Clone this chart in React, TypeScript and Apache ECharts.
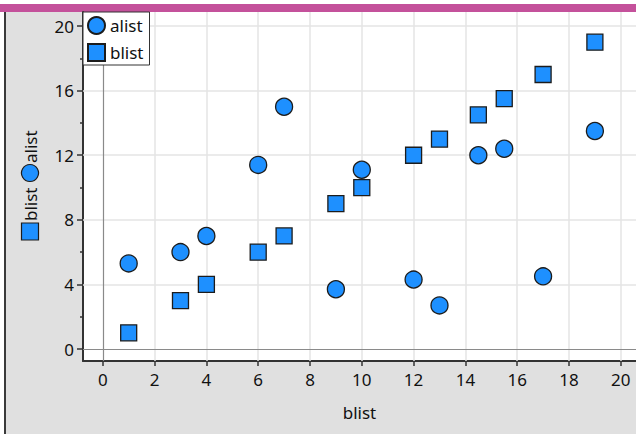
import React, { useEffect, useRef } from "react";
import * as echarts from "echarts";

const blist = [1, 3, 4, 6, 7, 9, 10, 12, 13, 14.5, 15.5, 17, 19];
const alist = [5.3, 6, 7, 11.4, 15, 3.7, 11.1, 4.3, 2.7, 12, 12.4, 4.5, 13.5];
const xTicks = [0, 2, 4, 6, 8, 10, 12, 14, 16, 18, 20];
const yTicks = [0, 4, 8, 12, 16, 20];
const yMinorTicks = [2, 6, 10, 14, 18];
const yGrid = [4, 8, 12, 16, 20];

const FONT = "Noto Sans";
const FS = 17;
const BLUE = "#1e90ff";
const EDGE = "#1c1c1c";
const TXT = "#111111";

export default function App() {
  const ref = useRef<HTMLDivElement>(null);
  useEffect(() => {
    if (!ref.current) return;
    const chart = echarts.init(ref.current, null, { renderer: "svg" });
    const xMin = -0.764;
    const xMax = 20.587;
    const yMin = -0.743;
    const yMax = 20.87;
    chart.setOption({
      animation: false,
      backgroundColor: "#ffffff",
      textStyle: { fontFamily: FONT },
      graphic: [
        { type: "rect", z: -10, shape: { x: 5, y: 12, width: 631, height: 422 }, style: { fill: "#e0e0e0" } },
        { type: "rect", z: -10, shape: { x: 0, y: 4, width: 636, height: 8 }, style: { fill: "#c4519b" } },
        { type: "rect", z: -10, shape: { x: 4, y: 12, width: 2, height: 422 }, style: { fill: "#3a3a3a" } },
        {
          type: "group",
          x: 30,
          y: 180,
          rotation: Math.PI / 2,
          z: 10,
          children: [
            {
              type: "rect",
              shape: { x: -60, y: -8.5, width: 17, height: 17 },
              style: { fill: BLUE, stroke: EDGE, lineWidth: 1.2 },
            },
            {
              type: "text",
              x: -41,
              y: 0,
              style: { text: "blist", fontSize: FS, fontFamily: FONT, fill: TXT, align: "left", verticalAlign: "middle" },
            },
            {
              type: "circle",
              shape: { cx: 7, cy: 0, r: 8.5 },
              style: { fill: BLUE, stroke: EDGE, lineWidth: 1.2 },
            },
            {
              type: "text",
              x: 17,
              y: 0,
              style: { text: "alist", fontSize: FS, fontFamily: FONT, fill: TXT, align: "left", verticalAlign: "middle" },
            },
          ],
        },
      ],
      grid: {
        left: 83,
        top: 12,
        right: 0,
        bottom: 73,
        show: true,
        backgroundColor: "#ffffff",
        borderWidth: 0,
      },
      legend: {
        orient: "vertical",
        left: 83,
        top: 12,
        z: 50,
        backgroundColor: "#ffffff",
        borderColor: "#333333",
        borderWidth: 1,
        borderRadius: 0,
        padding: [4, 6, 3, 4],
        itemGap: 8,
        itemWidth: 17,
        itemHeight: 17,
        itemTextGap: 7,
        textStyle: { fontSize: FS, color: TXT, fontFamily: FONT },
        data: ["alist", "blist"],
      },
      xAxis: {
        type: "value",
        min: xMin,
        max: xMax,
        name: "blist",
        nameLocation: "middle",
        nameGap: 43,
        nameTextStyle: { fontSize: FS, color: TXT, fontFamily: FONT },
        axisLine: { show: true, onZero: false, lineStyle: { color: "#333333", width: 2 } },
        axisTick: { show: true, customValues: xTicks, length: 5, lineStyle: { color: "#333333", width: 1.5 } },
        axisLabel: { customValues: xTicks, fontSize: FS, color: TXT, margin: 10, fontFamily: FONT },
        splitLine: { show: false },
      },
      yAxis: [
        {
          type: "value",
          min: yMin,
          max: yMax,
          axisLine: { show: true, onZero: false, lineStyle: { color: "#333333", width: 2 } },
          axisTick: { show: true, customValues: yTicks, length: 6, lineStyle: { color: "#333333", width: 1.5 } },
          axisLabel: { customValues: yTicks, fontSize: FS, color: TXT, margin: 9, fontFamily: FONT },
          splitLine: { show: false },
        },
        {
          type: "value",
          min: yMin,
          max: yMax,
          position: "left",
          axisLine: { show: false, onZero: false },
          axisTick: { show: true, customValues: yMinorTicks, length: 3, lineStyle: { color: "#333333", width: 1.5 } },
          axisLabel: { show: false, customValues: yMinorTicks },
          splitLine: { show: false },
        },
      ],
      series: [
        {
          name: "grid",
          type: "scatter",
          data: [],
          silent: true,
          z: 0,
          markLine: {
            silent: true,
            symbol: "none",
            label: { show: false },
            lineStyle: { color: "#e4e4e4", width: 1.5, type: "solid" },
            data: [
              ...xTicks.filter((v) => v !== 0).map((v) => ({ xAxis: v })),
              ...yGrid.map((v) => ({ yAxis: v })),
            ],
          },
        },
        {
          name: "zero",
          type: "scatter",
          data: [],
          silent: true,
          z: 1,
          markLine: {
            silent: true,
            symbol: "none",
            label: { show: false },
            lineStyle: { color: "#8a8a8a", width: 1.2, type: "solid" },
            data: [{ xAxis: 0 }, { yAxis: 0 }],
          },
        },
        {
          name: "alist",
          type: "scatter",
          symbol: "circle",
          symbolSize: 17,
          z: 5,
          itemStyle: { color: BLUE, borderColor: EDGE, borderWidth: 1.3, opacity: 1 },
          data: blist.map((b, i) => [b, alist[i]]),
        },
        {
          name: "blist",
          type: "scatter",
          symbol: "rect",
          symbolSize: 16,
          z: 5,
          itemStyle: { color: BLUE, borderColor: EDGE, borderWidth: 1.3, opacity: 1 },
          data: blist.map((b) => [b, b]),
        },
      ],
    });
    return () => chart.dispose();
  }, []);
  return (
    <div
      ref={ref}
      style={{ position: "absolute", left: 0, top: 0, width: 636, height: 434 }}
    />
  );
}
